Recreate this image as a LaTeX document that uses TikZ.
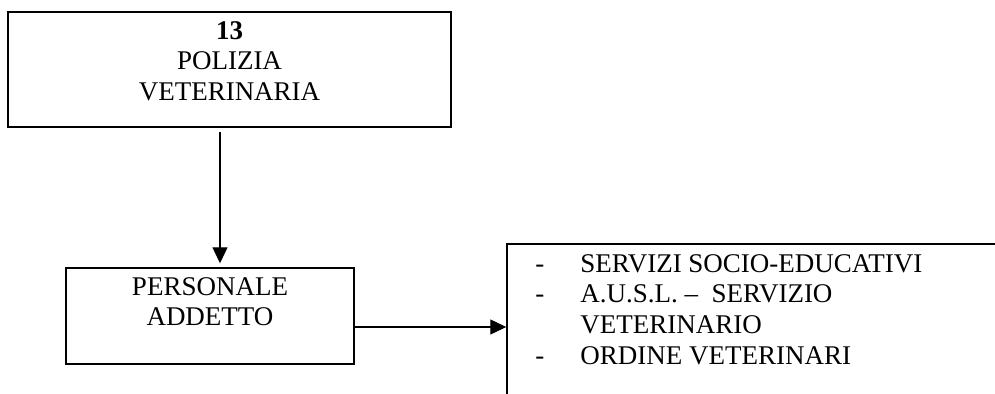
\documentclass[tikz,border=0pt]{standalone}
\usepackage{fontspec}
\setmainfont{Liberation Serif}
\usetikzlibrary{arrows.meta,positioning}

\begin{document}
\begin{tikzpicture}[
  x=0.5pt,y=-0.5pt,
  box/.style={rectangle,draw,line width=0.7pt,inner sep=0pt},
  txt/.style={inner sep=0pt,font=\fontsize{13.5}{15.3}\selectfont},
  arrow/.style={-{Triangle[length=8pt,width=7.5pt]},line width=0.6pt}
]
\useasboundingbox (0,0) rectangle (995,394);

% Boxes
\node[box,minimum width=221.5pt,minimum height=57.5pt] (polizia) at (229.5,69.5) {};
\node[box,minimum width=144pt,minimum height=48pt] (personale) at (210,316) {};
\node[box,minimum width=246.5pt,minimum height=78pt] (enti) at (753.5,322) {};

% Texts
\node[txt,align=center,anchor=north] (politxt) at (229.5,21) {\textbf{13}\\POLIZIA\\VETERINARIA};
\node[txt,align=center,anchor=north] (perstxt) at (210,277) {PERSONALE\\ADDETTO};
\node[txt,align=left,anchor=north west] (entitxt) at (535,254)
  {\makebox[22.5pt][l]{-}SERVIZI SOCIO-EDUCATIVI\\
   \makebox[22.5pt][l]{-}A.U.S.L. --\ \ SERVIZIO\\
   \hspace*{22.5pt}VETERINARIO\\
   \makebox[22.5pt][l]{-}ORDINE VETERINARI};

% Arrows
\draw[arrow] ([xshift=-4.75pt,yshift=-2pt]polizia.south) -- ([xshift=-4.75pt,yshift=2pt]polizia.south |- personale.north);
\draw[arrow] ([yshift=-5.5pt]personale.east) -- ([yshift=-5.5pt]personale.east -| enti.west);

\end{tikzpicture}
\end{document}
